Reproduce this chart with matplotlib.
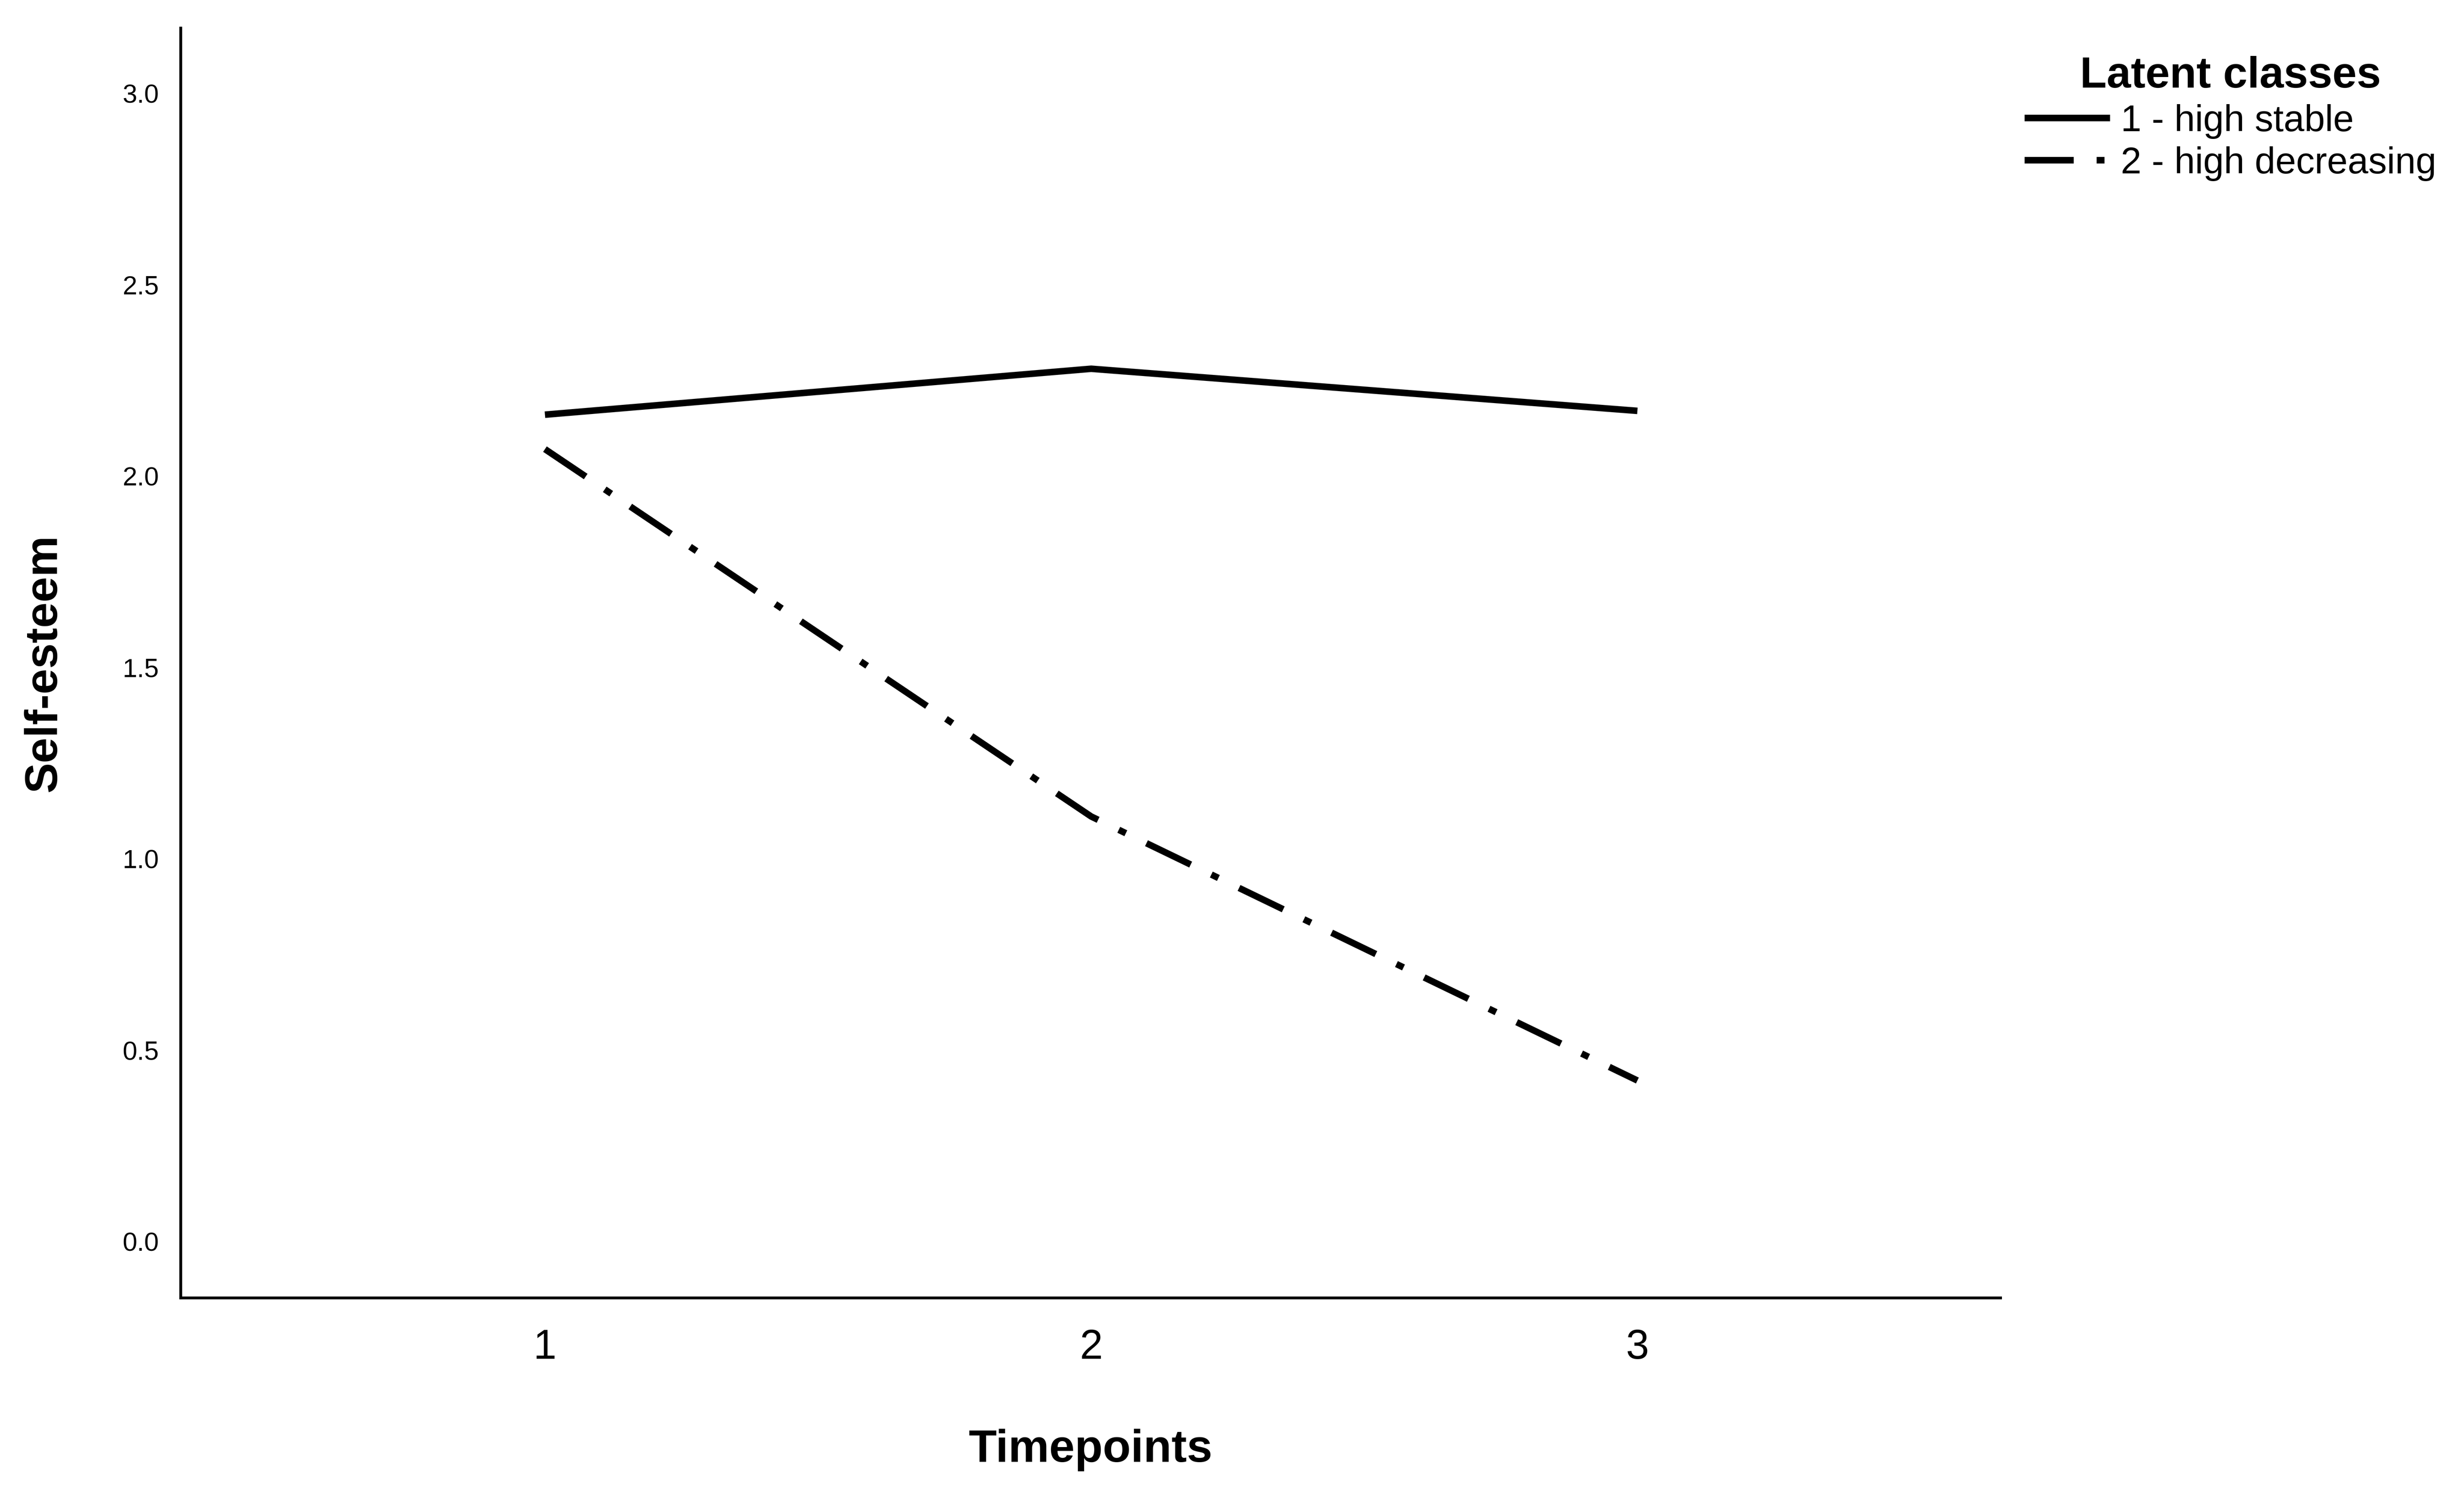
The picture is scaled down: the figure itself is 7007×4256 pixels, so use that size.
import matplotlib
matplotlib.use("Agg")
import matplotlib.pyplot as plt

plt.rcParams["font.family"] = ["Liberation Sans", "DejaVu Sans"]

timepoints = [1, 2, 3]
high_stable = [2.16, 2.28, 2.17]
high_decreasing = [2.07, 1.11, 0.42]
y_ticks = [0.0, 0.5, 1.0, 1.5, 2.0, 2.5, 3.0]

fig = plt.figure(figsize=(15.68, 9.525), dpi=100)
ax = fig.add_axes([0.0733, 0.133, 0.7386, 0.848])

ax.plot(timepoints, high_stable, color="black", lw=3.0, solid_capstyle="butt",
        label="1 - high stable")
ax.plot(timepoints, high_decreasing, color="black", lw=3.0,
        dashes=(7.5, 3.5, 1.2, 3.5), label="2 - high decreasing")

ax.set_xlim(0.333, 3.665)
ax.set_ylim(-0.148, 3.17)
ax.set_xticks(timepoints)
ax.set_yticks(y_ticks)
ax.set_yticklabels([f"{v:.1f}" for v in y_ticks])
ax.tick_params(axis="y", length=0, labelsize=12, pad=10)
ax.tick_params(axis="x", length=0, labelsize=19, pad=14)
for s in ("top", "right"):
    ax.spines[s].set_visible(False)
for s in ("left", "bottom"):
    ax.spines[s].set_linewidth(1.3)

ax.set_xlabel("Timepoints", fontsize=21, fontweight="bold", labelpad=28)
ax.set_ylabel("Self-esteem", fontsize=21, fontweight="bold", labelpad=26)

leg = fig.legend(loc="upper left", bbox_to_anchor=(0.808, 0.985), frameon=False,
                 title="Latent classes", fontsize=17, handlelength=2.3,
                 handletextpad=0.3, labelspacing=0.2)
leg.get_title().set_fontsize(20)
leg.get_title().set_fontweight("bold")

fig.savefig("out.png", dpi=446.9)
